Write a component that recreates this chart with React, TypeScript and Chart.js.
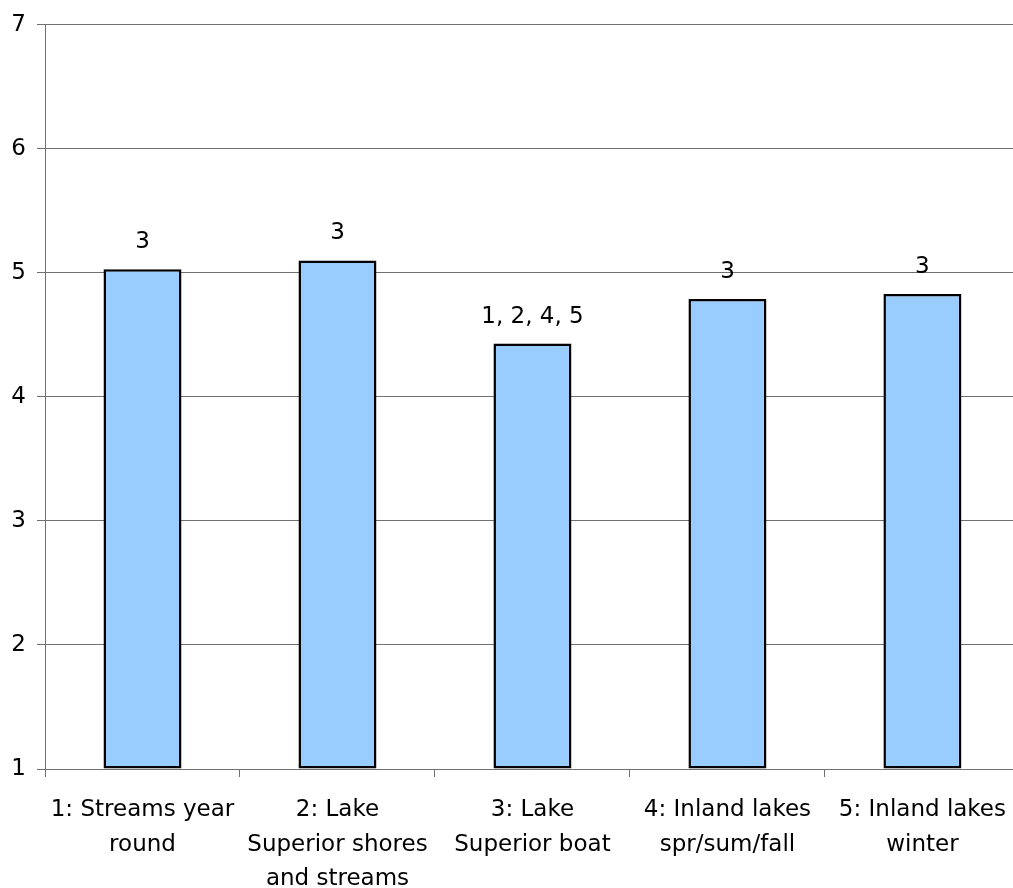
import React, { useEffect, useRef } from "react";
import { Chart, registerables } from "chart.js";

Chart.register(...registerables);

const categories: string[][] = [
  ["1: Streams year", "round"],
  ["2: Lake", "Superior shores", "and streams"],
  ["3: Lake", "Superior boat"],
  ["4: Inland lakes", "spr/sum/fall"],
  ["5: Inland lakes", "winter"],
];
const values: number[] = [5.03, 5.1, 4.43, 4.79, 4.83];
const barLabels: string[] = ["3", "3", "1, 2, 4, 5", "3", "3"];
const yMin = 1;
const yMax = 7;

const FONT = "'DejaVu Sans', sans-serif";

const labelPlugin = {
  id: "barLabels",
  afterDatasetsDraw(chart: any) {
    const ctx = chart.ctx;
    const meta = chart.getDatasetMeta(0);
    ctx.save();
    ctx.fillStyle = "#000000";
    ctx.font = `23px ${FONT}`;
    ctx.textAlign = "center";
    ctx.textBaseline = "middle";
    meta.data.forEach((el: any, i: number) => {
      ctx.fillText(barLabels[i], el.x, el.y - 27);
    });
    ctx.restore();
  },
};

export default function App() {
  const ref = useRef<HTMLCanvasElement>(null);
  useEffect(() => {
    if (!ref.current) return;
    const chart = new Chart(ref.current, {
      type: "bar",
      data: {
        labels: categories,
        datasets: [
          {
            data: values,
            base: yMin,
            backgroundColor: "#99CCFF",
            borderColor: "#000000",
            borderWidth: 2.5,
            borderSkipped: false,
            barPercentage: 0.4,
            categoryPercentage: 1,
          } as any,
        ],
      },
      options: {
        responsive: false,
        animation: false,
        devicePixelRatio: 1,
        layout: { padding: { top: 23, left: 0, right: 0, bottom: 0 } },
        plugins: { legend: { display: false }, tooltip: { enabled: false } },
        scales: {
          x: {
            offset: true,
            grid: {
              offset: true,
              drawOnChartArea: false,
              drawTicks: true,
              tickLength: 8,
              color: "#707070",
            },
            border: { color: "#707070" },
            ticks: {
              color: "#000000",
              font: { family: FONT, size: 23, lineHeight: 1.5 },
              maxRotation: 0,
              minRotation: 0,
              autoSkip: false,
              padding: 16,
            },
            afterFit: (scale: any) => {
              scale.height = 119;
            },
          },
          y: {
            min: yMin,
            max: yMax,
            grid: { color: "#707070", tickLength: 8 },
            border: { color: "#707070" },
            ticks: {
              stepSize: 1,
              color: "#000000",
              font: { family: FONT, size: 23 },
              padding: 11,
            },
            afterFit: (scale: any) => {
              scale.width = 45;
            },
          },
        },
      },
      plugins: [labelPlugin],
    });
    return () => chart.destroy();
  }, []);
  return (
    <div
      style={{
        position: "fixed",
        left: 0,
        top: 0,
        width: 1013,
        height: 888,
        overflow: "hidden",
        background: "#ffffff",
      }}
    >
      <canvas ref={ref} width={1022} height={888} style={{ display: "block" }} />
    </div>
  );
}
